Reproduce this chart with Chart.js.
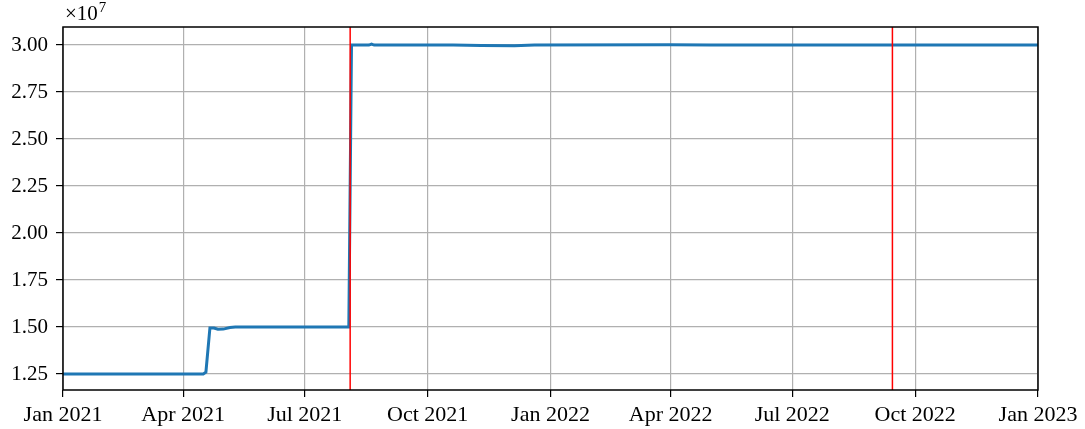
<!DOCTYPE html>
<html>
<head>
<meta charset="utf-8">
<script src="https://cdn.jsdelivr.net/npm/chart.js@4/dist/chart.umd.min.js"></script>
<style>
  html, body { margin: 0; padding: 0; background: #fff; }
  #wrap { width: 1085px; height: 429px; }
</style>
</head>
<body>
<div id="wrap"><canvas id="chart"></canvas></div>
<script>
const day = (y, m, d) => Date.UTC(y, m - 1, d);

// balance over time (absolute values)
const seriesDates = [
  day(2021, 1, 1), day(2021, 4, 16), day(2021, 4, 18), day(2021, 4, 21), day(2021, 4, 24),
  day(2021, 4, 27), day(2021, 5, 1), day(2021, 5, 6), day(2021, 5, 10), day(2021, 8, 3),
  day(2021, 8, 5), day(2021, 8, 18), day(2021, 8, 20), day(2021, 8, 22), day(2021, 10, 20),
  day(2021, 11, 10), day(2021, 12, 5), day(2021, 12, 20), day(2022, 3, 31), day(2022, 5, 1),
  day(2023, 1, 1)
];
const seriesValues = [
  12500000, 12500000, 12600000, 14950000, 14950000,
  14880000, 14890000, 14970000, 15000000, 15000000,
  30000000, 30000000, 30050000, 30000000, 30000000,
  29970000, 29960000, 30000000, 30010000, 30000000,
  30000000
];

// marked events
const eventDates = [day(2021, 8, 4), day(2022, 9, 14)];

const xTickDates = [
  day(2021, 1, 1), day(2021, 4, 1), day(2021, 7, 1), day(2021, 10, 1),
  day(2022, 1, 1), day(2022, 4, 1), day(2022, 7, 1), day(2022, 10, 1), day(2023, 1, 1)
];
const xTickLabels = [
  'Jan 2021', 'Apr 2021', 'Jul 2021', 'Oct 2021',
  'Jan 2022', 'Apr 2022', 'Jul 2022', 'Oct 2022', 'Jan 2023'
];
const yTicks = [12500000, 15000000, 17500000, 20000000, 22500000, 25000000, 27500000, 30000000];

const yMin = 11650000, yMax = 30960000;
const FONT = "'Liberation Serif', 'DejaVu Serif', serif";

const lineData = seriesDates.map((d, i) => ({ x: d, y: seriesValues[i] }));
const eventSets = eventDates.map(d => ({
  data: [{ x: d, y: yMin }, { x: d, y: yMax }],
  borderColor: '#ff0000',
  borderWidth: 1.5,
  pointRadius: 0,
  order: 0
}));

const frame = {
  id: 'frame',
  afterDraw(chart) {
    const { ctx, chartArea: a } = chart;
    ctx.save();
    ctx.strokeStyle = '#000';
    ctx.lineWidth = 1.5;
    ctx.strokeRect(a.left, a.top, a.right - a.left, a.bottom - a.top);
    // axis multiplier
    ctx.fillStyle = '#000';
    ctx.textBaseline = 'alphabetic';
    ctx.font = '21px ' + FONT;
    ctx.fillText('\u00d710', a.left + 2, a.top - 7);
    const w = ctx.measureText('\u00d710').width;
    ctx.font = '15px ' + FONT;
    ctx.fillText('7', a.left + 3 + w, a.top - 15);
    ctx.restore();
  }
};

new Chart(document.getElementById('chart'), {
  type: 'line',
  data: {
    datasets: [
      {
        data: lineData,
        borderColor: '#1f77b4',
        borderWidth: 3,
        pointRadius: 0,
        tension: 0,
        order: 1
      },
      ...eventSets
    ]
  },
  options: {
    responsive: true,
    maintainAspectRatio: false,
    animation: false,
    layout: { padding: { top: 27, right: 47, left: 0, bottom: 0 } },
    plugins: { legend: { display: false }, tooltip: { enabled: false } },
    scales: {
      x: {
        type: 'linear',
        min: xTickDates[0],
        max: xTickDates[xTickDates.length - 1],
        afterBuildTicks: s => { s.ticks = xTickDates.map(v => ({ value: v })); },
        afterFit: s => { s.height = 39; },
        border: { display: false },
        grid: { color: '#b0b0b0', lineWidth: 1.2, tickColor: '#000', tickLength: 7 },
        ticks: {
          autoSkip: false,
          maxRotation: 0,
          padding: 5,
          color: '#000',
          font: { family: FONT, size: 22 },
          callback: v => xTickLabels[xTickDates.indexOf(v)]
        }
      },
      y: {
        min: yMin,
        max: yMax,
        afterBuildTicks: s => { s.ticks = yTicks.map(v => ({ value: v })); },
        afterFit: s => { s.width = 63; },
        border: { display: false },
        grid: { color: '#b0b0b0', lineWidth: 1.2, tickColor: '#000', tickLength: 7 },
        ticks: {
          padding: 8,
          color: '#000',
          font: { family: FONT, size: 21 },
          callback: v => (v / 1e7).toFixed(2)
        }
      }
    }
  },
  plugins: [frame]
});
</script>
</body>
</html>
